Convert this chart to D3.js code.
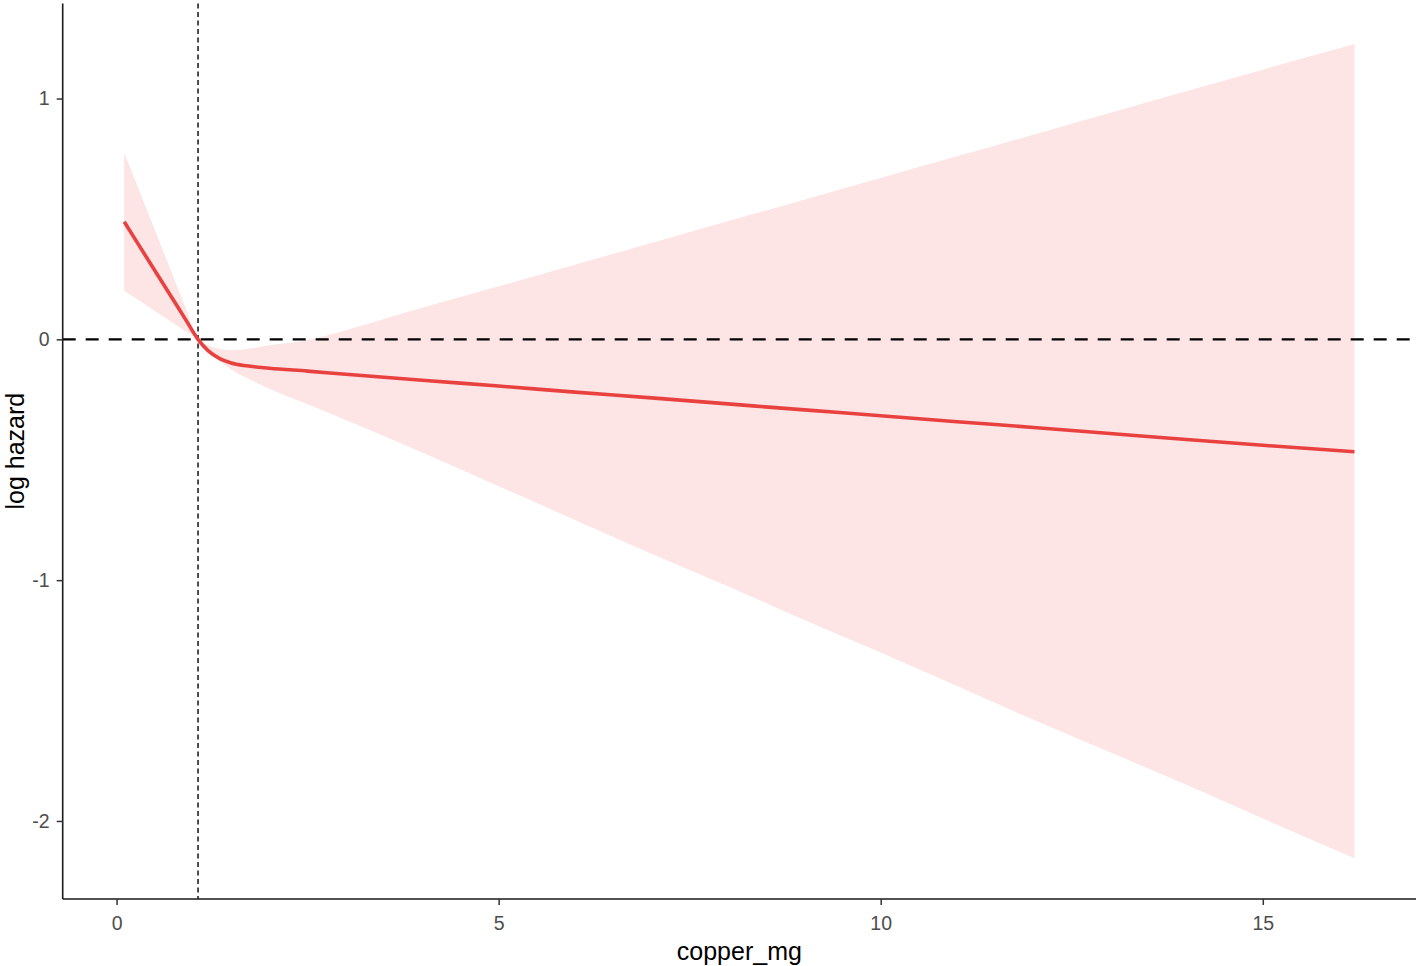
<!DOCTYPE html>
<html>
<head>
<meta charset="utf-8">
<script src="https://cdn.jsdelivr.net/npm/d3@7"></script>
<style>
  html, body { margin: 0; padding: 0; background: #fff; }
  svg { display: block; font-family: "Liberation Sans", Arial, sans-serif; }
  .tick text { fill: #4d4d4d; font-size: 19.5px; }
  .tick line { stroke: #333; stroke-width: 1.5; }
  .domain { stroke: #1a1a1a; stroke-width: 1.6; }
  .axis-title { fill: #000; font-size: 25px; }
</style>
</head>
<body>
<svg id="chart" width="1418" height="966"></svg>
<script>
// Spline estimate of log hazard vs copper intake, with 95% band.
var copperMg = [0.1, 0.3, 0.5, 0.7, 0.9, 1.066, 1.2, 1.35, 1.5, 1.7, 2.0, 2.5, 3, 4, 5, 6, 7, 8, 9, 10, 11, 12, 13, 14, 15, 16.2];
var logHazard = [0.488, 0.387, 0.286, 0.185, 0.084, 0, -0.048, -0.08, -0.098, -0.11, -0.12, -0.132, -0.145,
  -0.170, -0.194, -0.219, -0.243, -0.268, -0.293, -0.317, -0.342, -0.366, -0.391, -0.416, -0.44, -0.467];
var upperCI = [0.775, 0.615, 0.455, 0.294, 0.133, 0, -0.025, -0.04, -0.045, -0.04, -0.025, -0.003, 0.038,
  0.131, 0.22, 0.31, 0.40, 0.49, 0.58, 0.67, 0.76, 0.85, 0.94, 1.03, 1.12, 1.226];
var lowerCI = [0.202, 0.160, 0.118, 0.076, 0.035, 0, -0.045, -0.09, -0.125, -0.16, -0.205, -0.27, -0.335,
  -0.47, -0.61, -0.75, -0.89, -1.025, -1.165, -1.30, -1.44, -1.58, -1.715, -1.85, -1.99, -2.155];
var refCopper = 1.066;   // reference value (median) – vertical dotted line
var xTicks = [0, 5, 10, 15];
var yTicks = [-2, -1, 0, 1];

(function () {
  'use strict';

  var rows = copperMg.map(function (x, i) {
    return { x: x, y: logHazard[i], lo: lowerCI[i], hi: upperCI[i] };
  });

  var svg = d3.select('#chart');
  var pL = 62.7, pR = 1416, pT = 3.4, pB = 899;

  // ggplot-style 5% expansion of the data range
  function expand(ext) { var d = (ext[1] - ext[0]) * 0.05; return [ext[0] - d, ext[1] + d]; }
  var x = d3.scaleLinear().domain(expand(d3.extent(copperMg))).range([pL, pR]);
  var y = d3.scaleLinear()
    .domain(expand([d3.min(lowerCI), d3.max(upperCI)]))
    .range([pB, pT]);

  // Ribbon
  svg.append('path')
    .datum(rows)
    .attr('fill', 'rgb(253,228,229)')
    .attr('d', d3.area().curve(d3.curveMonotoneX)
      .x(function (d) { return x(d.x); })
      .y0(function (d) { return y(d.lo); })
      .y1(function (d) { return y(d.hi); }));

  // Reference lines
  svg.append('line')
    .attr('x1', pL).attr('x2', pR)
    .attr('y1', y(0)).attr('y2', y(0))
    .attr('stroke', '#000').attr('stroke-width', 2.3)
    .attr('stroke-dasharray', '13,10');
  svg.append('line')
    .attr('x1', x(refCopper)).attr('x2', x(refCopper))
    .attr('y1', pT).attr('y2', pB)
    .attr('stroke', '#000').attr('stroke-width', 1.4)
    .attr('stroke-dasharray', '5,3.5');

  // Fitted curve
  svg.append('path')
    .datum(rows)
    .attr('fill', 'none')
    .attr('stroke', '#e8413f')
    .attr('stroke-width', 3.6)
    .attr('stroke-linejoin', 'round')
    .attr('d', d3.line().curve(d3.curveMonotoneX)
      .x(function (d) { return x(d.x); })
      .y(function (d) { return y(d.y); }));

  // Axes
  var gx = svg.append('g').attr('transform', 'translate(0,' + pB + ')')
    .call(d3.axisBottom(x).tickValues(xTicks).tickSize(6).tickPadding(7).tickSizeOuter(0));
  var gy = svg.append('g').attr('transform', 'translate(' + pL + ',0)')
    .call(d3.axisLeft(y).tickValues(yTicks).tickSize(6).tickPadding(7).tickSizeOuter(0)
      .tickFormat(function (d) { return d < 0 ? '-' + Math.abs(d) : d; }));
  gx.selectAll('.tick text').attr('dy', '0.9em');
  gx.select('.domain').attr('d', 'M' + pL + ',0H' + pR);
  gy.select('.domain').attr('d', 'M0,' + pT + 'V' + pB);
  svg.selectAll('.tick text').attr('font-family', null).attr('font-size', null);
  svg.selectAll('.domain, .tick line').attr('stroke', null);

  // Axis titles
  svg.append('text').attr('class', 'axis-title')
    .attr('x', (pL + pR) / 2).attr('y', 960)
    .attr('text-anchor', 'middle')
    .text('copper_mg');
  svg.append('text').attr('class', 'axis-title')
    .attr('transform', 'translate(24,' + ((pT + pB) / 2) + ') rotate(-90)')
    .attr('text-anchor', 'middle')
    .text('log hazard');
})();
</script>
</body>
</html>
